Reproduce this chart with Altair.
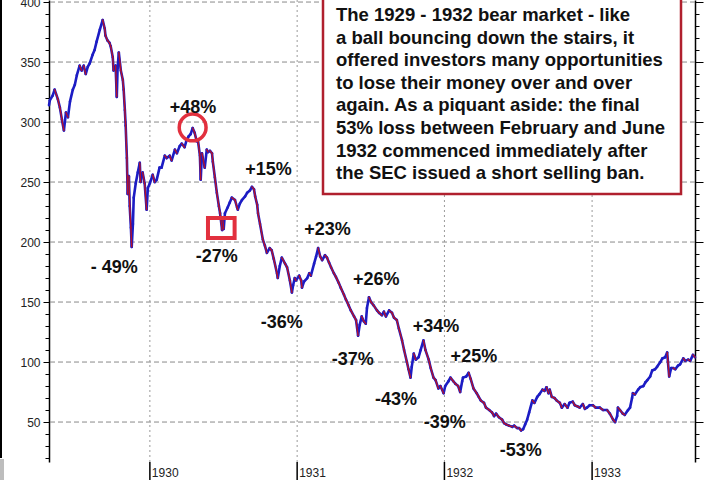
import altair as alt
import pandas as pd
import numpy as np

# ---------------- data ----------------
dates = [
    "1929-04-26", "1929-04-28", "1929-05-05", "1929-05-10", "1929-05-18", "1929-05-23", "1929-05-28",
    "1929-06-02", "1929-06-07", "1929-06-12", "1929-06-17", "1929-06-24", "1929-06-29", "1929-07-04",
    "1929-07-11", "1929-07-16", "1929-07-21", "1929-07-26", "1929-07-31", "1929-08-05", "1929-08-12",
    "1929-08-17", "1929-08-22", "1929-08-30", "1929-09-06", "1929-09-11", "1929-09-13", "1929-09-18",
    "1929-09-23", "1929-09-26", "1929-10-01", "1929-10-03", "1929-10-08", "1929-10-11", "1929-10-13",
    "1929-10-16", "1929-10-21", "1929-10-26", "1929-10-28", "1929-10-31", "1929-11-02", "1929-11-05",
    "1929-11-07", "1929-11-10", "1929-11-12", "1929-11-15", "1929-11-17", "1929-11-20", "1929-11-22",
    "1929-11-27", "1929-12-02", "1929-12-07", "1929-12-09", "1929-12-14", "1929-12-19", "1929-12-24",
    "1929-12-27", "1930-01-01",
    "1930-01-08", "1930-01-13", "1930-01-18", "1930-01-25", "1930-01-30", "1930-02-07", "1930-02-12",
    "1930-02-19", "1930-02-24", "1930-03-04", "1930-03-09", "1930-03-16", "1930-03-21", "1930-03-28",
    "1930-04-02", "1930-04-07", "1930-04-12", "1930-04-17", "1930-04-22", "1930-04-27", "1930-04-30",
    "1930-05-05", "1930-05-07", "1930-05-10", "1930-05-17", "1930-05-22", "1930-05-25", "1930-05-30",
    "1930-06-04", "1930-06-06", "1930-06-11", "1930-06-16", "1930-06-21", "1930-06-24", "1930-06-29",
    "1930-07-01", "1930-07-03", "1930-07-06", "1930-07-13", "1930-07-18", "1930-07-23", "1930-07-31",
    "1930-08-05", "1930-08-07", "1930-08-12", "1930-08-17", "1930-08-25", "1930-08-30", "1930-09-06",
    "1930-09-11", "1930-09-16", "1930-09-19", "1930-09-24", "1930-09-26", "1930-10-01", "1930-10-08",
    "1930-10-13", "1930-10-18", "1930-10-25", "1930-10-30", "1930-11-04", "1930-11-12", "1930-11-14",
    "1930-11-19", "1930-11-24", "1930-12-02", "1930-12-07", "1930-12-14", "1930-12-19", "1930-12-22",
    "1930-12-26", "1930-12-29",
    "1931-01-06", "1931-01-11", "1931-01-13", "1931-01-18", "1931-01-26", "1931-01-31", "1931-02-04",
    "1931-02-12", "1931-02-17", "1931-02-22", "1931-02-27", "1931-03-04", "1931-03-11", "1931-03-16",
    "1931-03-21", "1931-03-26", "1931-04-02", "1931-04-07", "1931-04-14", "1931-04-19", "1931-04-27",
    "1931-05-02", "1931-05-09", "1931-05-14", "1931-05-22", "1931-05-27", "1931-06-01", "1931-06-05",
    "1931-06-10", "1931-06-15", "1931-06-20", "1931-06-23", "1931-06-28", "1931-07-03", "1931-07-10",
    "1931-07-18", "1931-07-23", "1931-07-30", "1931-08-04", "1931-08-09", "1931-08-17", "1931-08-24",
    "1931-08-29", "1931-09-05", "1931-09-10", "1931-09-18", "1931-09-23", "1931-09-30", "1931-10-04",
    "1931-10-09", "1931-10-12", "1931-10-17", "1931-10-22", "1931-10-29", "1931-11-03", "1931-11-10",
    "1931-11-15", "1931-11-23", "1931-11-28", "1931-12-05", "1931-12-10", "1931-12-17", "1931-12-22",
    "1931-12-30",
    "1932-01-03", "1932-01-11", "1932-01-16", "1932-01-23", "1932-01-28", "1932-02-04", "1932-02-09",
    "1932-02-14", "1932-02-16", "1932-02-24", "1932-03-01", "1932-03-06", "1932-03-13", "1932-03-21",
    "1932-03-26", "1932-03-31", "1932-04-08", "1932-04-13", "1932-04-21", "1932-04-28", "1932-05-03",
    "1932-05-08", "1932-05-15", "1932-05-23", "1932-05-28", "1932-06-02", "1932-06-09", "1932-06-17",
    "1932-06-22", "1932-06-29", "1932-07-04", "1932-07-09", "1932-07-14", "1932-07-19", "1932-07-24",
    "1932-07-29", "1932-08-06", "1932-08-11", "1932-08-18", "1932-08-23", "1932-08-31", "1932-09-05",
    "1932-09-10", "1932-09-15", "1932-09-18", "1932-09-23", "1932-09-30", "1932-10-05", "1932-10-13",
    "1932-10-18", "1932-10-25", "1932-11-01", "1932-11-06", "1932-11-14", "1932-11-19", "1932-11-26",
    "1932-12-01", "1932-12-09", "1932-12-14", "1932-12-19", "1932-12-26",
    "1933-01-03", "1933-01-10", "1933-01-20", "1933-01-28", "1933-02-07", "1933-02-14", "1933-02-22",
    "1933-02-27", "1933-03-04", "1933-03-06", "1933-03-11", "1933-03-18", "1933-03-23", "1933-03-31",
    "1933-04-05", "1933-04-10", "1933-04-12", "1933-04-17", "1933-04-25", "1933-04-30", "1933-05-08",
    "1933-05-13", "1933-05-18", "1933-05-25", "1933-05-30", "1933-06-06", "1933-06-11", "1933-06-19",
    "1933-06-24", "1933-07-01", "1933-07-06", "1933-07-08", "1933-07-11", "1933-07-16", "1933-07-21",
    "1933-07-26", "1933-08-02", "1933-08-07", "1933-08-15", "1933-08-20", "1933-08-27", "1933-09-01",
    "1933-09-08", "1933-09-13",
]
values = [
    314, 318, 322, 327, 319, 312, 302,
    293, 308, 304, 317, 327, 331, 339,
    347, 343, 347, 340, 346, 349, 356,
    360, 367, 377, 385, 378, 372, 368,
    366, 363, 354, 343, 347, 321, 345,
    358, 343, 335, 327, 310, 297, 270,
    240, 255, 230, 212, 196, 215, 237,
    249, 258, 266, 250, 258, 249, 227,
    245, 249,
    256, 250, 252, 262, 262, 272, 270,
    272, 268, 277, 274, 280, 282, 279,
    285, 288, 290, 295, 291, 284, 285,
    272, 252, 274, 262, 277, 275, 276,
    274, 267, 254, 241, 230, 224, 210,
    218, 211, 224, 229, 233, 237, 235,
    229, 227, 232, 235, 238, 241, 243,
    246, 244, 238, 231, 224, 215, 202,
    197, 191, 195, 193, 186, 174, 170,
    180, 187, 182, 179, 168, 158, 164,
    170, 168,
    172, 168, 162, 167, 170, 174, 172,
    182, 188, 195, 188, 185, 189, 187,
    183, 179, 174, 171, 166, 162, 156,
    152, 147, 143, 138, 135, 122, 131,
    138, 134, 132, 145, 154, 150, 147,
    143, 141, 139, 142, 138, 143, 141,
    137, 135, 128, 118, 110, 100, 94,
    87, 96, 107, 102, 104, 110, 118,
    110, 102, 95, 87, 85, 78, 80,
    74,
    80, 84, 87, 84, 82, 80, 75,
    84, 87, 88, 91, 86, 78, 74,
    71, 68, 66, 62, 60, 58, 55,
    57, 54, 52, 49, 48, 47, 46,
    47, 45, 45, 43, 44, 48, 52,
    58, 68, 66, 71, 73, 77, 76,
    79, 74, 77, 71, 70, 68, 66,
    62, 65, 62, 66, 67, 64, 63,
    62, 65, 61, 62, 64,
    64, 62, 62, 60, 60, 57, 52,
    50, 55, 62, 60, 57, 56, 60,
    62, 70, 74, 73, 77, 79, 80,
    83, 85, 88, 93, 94, 96, 100,
    103, 104, 108, 100, 88, 95, 95,
    94, 97, 98, 103, 101, 102, 101,
    106, 104,
]

label_text = ["+48%", "- 49%", "-27%", "+15%", "+23%", "-36%", "+26%",
              "-37%", "+34%", "+25%", "-43%", "-39%", "-53%"]
label_date = ["1930-04-18", "1929-10-05", "1930-06-16", "1930-10-22", "1931-03-17", "1930-11-24",
              "1931-07-16", "1931-05-19", "1931-12-11", "1932-03-14", "1931-09-03", "1932-01-02",
              "1932-07-08"]
label_value = [311.7, 178.3, 187.5, 260, 210, 132.5, 168.3, 101.7, 129.2, 104.2, 68.3, 49.2, 25.8]

circle_date = ["1930-04-17"]
circle_value = [295.5]
box_marker_start = ["1930-05-25"]
box_marker_end = ["1930-07-30"]
box_marker_low = [203.3]
box_marker_high = [220.0]

y_grid = [50, 100, 150, 200, 250, 300, 350, 400]
y_minor = list(range(20, 401, 10))
year_dates = ["1930-01-01", "1931-01-01", "1932-01-01", "1933-01-01"]
year_labels = ["1930", "1931", "1932", "1933"]
tick_months = [(1929, m) for m in range(5, 13)] + [(y, m) for y in (1930, 1931, 1932) for m in range(1, 13)] \
    + [(1933, m) for m in range(1, 10)]

note_lines = [
    "The 1929 - 1932 bear market - like",
    "a ball bouncing down the stairs, it",
    "offered investors many opportunities",
    "to lose their money over and over",
    "again. As a piquant aside: the final",
    "53% loss between February and June",
    "1932 commenced immediately after",
    "the SEC issued a short selling ban.",
]

# ---------------- styling ----------------
BLUE = "#1c1cc4"
RED = "#b3122c"
MARK_RED = "#e2303e"
FONT = "Liberation Sans"

xscale = alt.Scale(domain=[alt.DateTime(year=1929, month=4, date=26),
                           alt.DateTime(year=1933, month=9, date=13)])
yscale = alt.Scale(domain=[16.7, 401.7], nice=False, zero=False)

df = pd.DataFrame({"date": pd.to_datetime(dates), "value": values})
seg = pd.DataFrame({
    "d1": df["date"].iloc[:-1].values,
    "v1": df["value"].iloc[:-1].values,
    "d2": df["date"].iloc[1:].values,
    "v2": df["value"].iloc[1:].values,
})
seg["dir"] = np.where(seg["v2"] >= seg["v1"], "up", "down")
seg_down = seg[seg["dir"] == "down"]

x_axis = alt.Axis(
    values=[alt.DateTime(year=y, month=m, date=1) for (y, m) in tick_months],
    labels=False, ticks=True, tickSize=4, tickColor="black", tickWidth=1,
    domainColor="black", domainWidth=1.5, grid=False, title=None,
)
y_axis_left = alt.Axis(
    orient="left", values=y_minor,
    labelExpr="datum.value % 50 === 0 ? datum.label : ''",
    tickSize={"condition": {"test": "datum.value % 50 === 0", "value": 6}, "value": 4},
    tickColor="black", domainColor="black", domainWidth=1.5, grid=False, title=None,
    labelFont=FONT, labelFontSize=12, labelColor="#222", labelPadding=3,
)
y_axis_right = alt.Axis(
    orient="right", values=y_minor, labels=False,
    tickSize={"condition": {"test": "datum.value % 50 === 0", "value": 8}, "value": 4},
    tickColor="black", domainColor="black", domainWidth=1.5, grid=False, title=None,
)

one = pd.DataFrame({"a": [0]})
PAD_L = 49  # left padding: alt.value x positions are measured from the plot's left edge

hgrid = alt.Chart(pd.DataFrame({"v": y_grid})).mark_rule(
    color="#8a8a8a", strokeDash=[5, 3], strokeWidth=1
).encode(y=alt.Y("v:Q", scale=yscale, axis=y_axis_right))

vgrid = alt.Chart(pd.DataFrame({"d": pd.to_datetime(year_dates)})).mark_rule(
    color="#9a9a9a", strokeDash=[2, 3], strokeWidth=1
).encode(x=alt.X("d:T", scale=xscale, axis=None))

price = alt.Chart(seg).mark_rule(strokeWidth=2.6, strokeCap="round", color=BLUE).encode(
    x=alt.X("d1:T", scale=xscale, axis=x_axis),
    x2="d2:T",
    y=alt.Y("v1:Q", scale=yscale, axis=y_axis_left),
    y2="v2:Q",
)
price_down = alt.Chart(seg_down).mark_rule(strokeWidth=1.4, strokeCap="round", color=RED).encode(
    x=alt.X("d1:T", scale=xscale, axis=None),
    x2="d2:T",
    y=alt.Y("v1:Q", scale=yscale, axis=None),
    y2="v2:Q",
)

circle = alt.Chart(pd.DataFrame({"d": pd.to_datetime(circle_date), "v": circle_value})).mark_point(
    shape="circle", filled=False, size=720, strokeWidth=3.5, color=MARK_RED, opacity=1
).encode(x=alt.X("d:T", scale=xscale, axis=None), y=alt.Y("v:Q", scale=yscale, axis=None))

rect_marker = alt.Chart(pd.DataFrame({
    "d1": pd.to_datetime(box_marker_start), "d2": pd.to_datetime(box_marker_end),
    "v1": box_marker_low, "v2": box_marker_high,
})).mark_rect(fillOpacity=0, stroke=MARK_RED, strokeWidth=4).encode(
    x=alt.X("d1:T", scale=xscale, axis=None), x2="d2:T",
    y=alt.Y("v1:Q", scale=yscale, axis=None), y2="v2:Q",
)

labels = alt.Chart(pd.DataFrame({
    "d": pd.to_datetime(label_date), "v": label_value, "t": label_text,
})).mark_text(font=FONT, fontSize=18, fontWeight="bold", color="#111",
              align="center", baseline="middle").encode(
    x=alt.X("d:T", scale=xscale, axis=None),
    y=alt.Y("v:Q", scale=yscale, axis=None),
    text="t:N",
)

note_box = alt.Chart(one).mark_rect(fill="white", stroke="#b0202e", strokeWidth=2.5).encode(
    x=alt.value(323 - PAD_L), x2=alt.value(681 - PAD_L), y=alt.value(-10), y2=alt.value(194),
)
note_text = alt.Chart(one).mark_text(
    text=note_lines, font=FONT, fontSize=18.5, fontWeight="bold", color="#111",
    align="left", baseline="alphabetic", lineHeight=22.6,
).encode(x=alt.value(336 - PAD_L), y=alt.value(21))

year_ticks = alt.Chart(pd.DataFrame({"d": pd.to_datetime(year_dates)})).mark_rule(
    color="black", strokeWidth=1.5
).encode(x=alt.X("d:T", scale=xscale, axis=None), y=alt.value(462), y2=alt.value(482))

year_text = alt.Chart(pd.DataFrame({"d": pd.to_datetime(year_dates), "t": year_labels})).mark_text(
    font=FONT, fontSize=12, color="#222", align="left", baseline="middle", dx=2
).encode(x=alt.X("d:T", scale=xscale, axis=None), y=alt.value(473), text="t:N")

left_edge = alt.Chart(one).mark_rule(color="black", strokeWidth=2).encode(
    x=alt.value(1 - PAD_L), y=alt.value(0), y2=alt.value(458)
)
left_patch = alt.Chart(one).mark_rect(color="#bdbdbd").encode(
    x=alt.value(0 - PAD_L), x2=alt.value(4 - PAD_L), y=alt.value(459), y2=alt.value(480)
)

chart = alt.layer(
    hgrid, vgrid, price, price_down, circle, rect_marker, labels, note_box, note_text,
    year_ticks, year_text, left_edge, left_patch,
).resolve_axis(y="independent").properties(
    width=646, height=462,
    padding={"left": PAD_L, "top": 0, "right": 25, "bottom": 18},
    autosize=alt.AutoSizeParams(type="none"),
    background="white",
).configure_view(stroke=None)

chart.save("out.html", embed_options={"renderer": "svg", "actions": False})
